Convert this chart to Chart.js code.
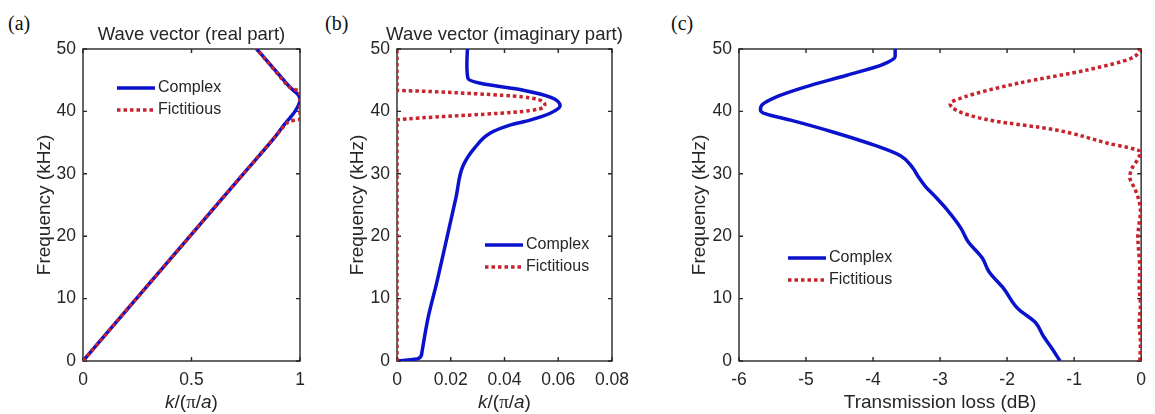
<!DOCTYPE html>
<html>
<head>
<meta charset="utf-8">
<script src="https://cdn.jsdelivr.net/npm/chart.js@4.4.1/dist/chart.umd.min.js"></script>
<style>
  body { margin: 0; background: #fff; }
  #fig { position: relative; width: 1155px; height: 414px; overflow: hidden; }
  #fig canvas { position: absolute; top: 0; }
  .tag { position: absolute; top: 13px; font: 20px "Liberation Serif", "Times New Roman", serif; line-height: 20px; color: #111; }
</style>
</head>
<body>
<div id="fig">
  <div class="tag" style="left:8px">(a)</div>
  <div class="tag" style="left:325px">(b)</div>
  <div class="tag" style="left:671px">(c)</div>
  <canvas id="chartA" width="320" height="414" style="left:0"></canvas>
  <canvas id="chartB" width="330" height="414" style="left:310px"></canvas>
  <canvas id="chartC" width="505" height="414" style="left:650px"></canvas>
</div>
<script>
// frequency axis shared by all panels (kHz)
const freqTicks = [0, 10, 20, 30, 40, 50];

// (a) wave vector, real part, k/(pi/a)
const freqRealComplex = [0, 10, 20, 30, 36, 38, 39, 40, 41, 41.8, 42.6, 43.5, 45, 47.5, 50];
const kRealComplex = [0, 0.246, 0.493, 0.739, 0.887, 0.93, 0.955, 0.977, 0.993, 1.0, 0.993, 0.965, 0.925, 0.863, 0.8];
const freqRealFict = [0, 10, 20, 30, 36, 37.8, 38.4, 38.8, 41, 43.2, 43.7, 45, 47.5, 50];
const kRealFict = [0, 0.246, 0.493, 0.739, 0.887, 0.931, 0.952, 1, 1, 1, 0.96, 0.922, 0.861, 0.8];
const kTicksReal = [0, 0.5, 1];

// (b) wave vector, imaginary part
const freqImagComplex = [0, 0.4, 1.2, 7, 12.4, 19.4, 26.3, 31.2, 34.3, 36.5, 37.8, 38.6, 39.7, 40.9, 42.2, 43.4, 44.5, 45.3, 47.5, 50];
const kImagComplex = [0, 0.008, 0.0092, 0.0116, 0.0147, 0.0184, 0.022, 0.0245, 0.0292, 0.0346, 0.042, 0.0495, 0.057, 0.0607, 0.0575, 0.047, 0.031, 0.0264, 0.026, 0.0262];
const freqImagFict = [0, 10, 20, 30, 38.6, 38.8, 40.0, 41.0, 42.2, 43.2, 43.4, 47, 50];
const kImagFict = [0, 0, 0, 0, 0, 0.004, 0.047, 0.055, 0.049, 0.012, 0, 0, 0];
const kTicksImag = [0, 0.02, 0.04, 0.06, 0.08];

// (c) transmission loss (dB)
const freqLossComplex = [0, 2, 4, 6.2, 8.4, 11.6, 14.3, 16.5, 19.1, 21.3, 24.3, 26.2, 28, 29.6, 31, 32.9, 34.5, 36.7, 38.6, 39.6, 40.2, 41, 42.3, 43.9, 45.8, 47.5, 48.8, 50];
const lossComplex = [-1.21, -1.33, -1.46, -1.58, -1.84, -2.05, -2.27, -2.37, -2.58, -2.69, -2.9, -3.06, -3.22, -3.33, -3.41, -3.59, -3.96, -4.6, -5.23, -5.6, -5.68, -5.66, -5.45, -5.02, -4.39, -3.86, -3.67, -3.67];
const freqLossFict = [0, 3, 6, 9, 12, 15, 18, 20, 22, 24, 26, 27.5, 29.5, 31, 32.5, 33.5, 34.9, 37.1, 38.5, 39.4, 40.2, 41.2, 42.3, 44.5, 46.7, 48.5, 50];
const lossFict = [-0.02, -0.01, -0.03, -0.01, -0.03, -0.02, -0.04, -0.05, -0.03, -0.01, -0.04, -0.09, -0.17, -0.13, -0.04, -0.01, -0.5, -1.31, -2.21, -2.57, -2.76, -2.85, -2.64, -1.84, -0.78, -0.15, 0];
const lossTicks = [-6, -5, -4, -3, -2, -1, 0];

const BLUE = '#0a12cc';
const RED = '#c8232c';
const INK = '#262626';
const SANS = '"Liberation Sans", Arial, sans-serif';

Chart.defaults.font.family = SANS;
Chart.defaults.color = INK;

function points(freqs, vals) {
    return freqs.map((f, i) => ({ x: vals[i], y: f }));
}

function complexSet(freqs, vals) {
    return {
        label: 'Complex', data: points(freqs, vals), order: 1,
        borderColor: BLUE, borderWidth: 3.5, pointRadius: 0,
        cubicInterpolationMode: 'monotone'
    };
}

function fictSet(freqs, vals) {
    return {
        label: 'Fictitious', data: points(freqs, vals), order: 0,
        borderColor: RED, borderWidth: 3.5, borderDash: [3.5, 3], borderCapStyle: 'butt',
        pointRadius: 0, cubicInterpolationMode: 'monotone'
    };
}

// box around the plot with inward ticks (matlab look)
const boxPlugin = {
    id: 'box',
    beforeDatasetsDraw(chart) {
        const { ctx, chartArea: a, scales: { x, y } } = chart;
        ctx.save();
        ctx.strokeStyle = INK;
        ctx.lineWidth = 1.4;
        ctx.strokeRect(a.left, a.top, a.width, a.height);
        ctx.beginPath();
        x.ticks.forEach(t => {
            const px = x.getPixelForValue(t.value);
            ctx.moveTo(px, a.bottom); ctx.lineTo(px, a.bottom - 4);
            ctx.moveTo(px, a.top); ctx.lineTo(px, a.top + 4);
        });
        y.ticks.forEach(t => {
            const py = y.getPixelForValue(t.value);
            ctx.moveTo(a.left, py); ctx.lineTo(a.left + 4, py);
            ctx.moveTo(a.right, py); ctx.lineTo(a.right - 4, py);
        });
        ctx.stroke();
        ctx.restore();
    }
};

// legend inside the axes, no frame
const innerLegend = {
    id: 'innerLegend',
    afterDatasetsDraw(chart, args, opts) {
        const { ctx, chartArea: a } = chart;
        ctx.save();
        ctx.font = '16px ' + SANS;
        ctx.textBaseline = 'middle';
        ctx.textAlign = 'left';
        chart.data.datasets.forEach((ds, i) => {
            const x0 = a.left + opts.left;
            const y0 = a.top + opts.top + i * 22;
            ctx.beginPath();
            ctx.strokeStyle = ds.borderColor;
            ctx.lineWidth = ds.borderWidth;
            ctx.lineCap = 'butt';
            ctx.setLineDash(ds.borderDash || []);
            ctx.moveTo(x0, y0);
            ctx.lineTo(x0 + 38, y0);
            ctx.stroke();
            ctx.setLineDash([]);
            ctx.fillStyle = INK;
            ctx.fillText(ds.label, x0 + 41, y0);
        });
        ctx.restore();
    }
};

// panel title and the k/(pi/a) label with italic letters
const panelText = {
    id: 'panelText',
    afterDraw(chart, args, opts) {
        const { ctx, chartArea: a } = chart;
        const cx = (a.left + a.right) / 2;
        ctx.save();
        ctx.fillStyle = INK;
        ctx.textBaseline = 'middle';
        if (opts.title) {
            ctx.font = '18.5px ' + SANS;
            ctx.textAlign = 'center';
            ctx.fillText(opts.title, cx, 35);
        }
        if (opts.kLabel) {
            const parts = [
                ['k', 'italic 19px ' + SANS],
                ['/(', '19px ' + SANS],
                ['\u03c0', '19px "Liberation Serif", serif'],
                ['/', '19px ' + SANS],
                ['a', 'italic 19px ' + SANS],
                [')', '19px ' + SANS]
            ];
            let total = 0;
            parts.forEach(p => { ctx.font = p[1]; total += ctx.measureText(p[0]).width; });
            let x = cx - total / 2;
            ctx.textAlign = 'left';
            parts.forEach(p => {
                ctx.font = p[1];
                ctx.fillText(p[0], x, 403);
                x += ctx.measureText(p[0]).width;
            });
        }
        ctx.restore();
    }
};

function freqAxis(width, titlePad) {
    return {
        type: 'linear', min: 0, max: 50,
        afterBuildTicks: s => { s.ticks = freqTicks.map(v => ({ value: v })); },
        grid: { display: false, drawTicks: false },
        border: { display: false },
        ticks: { padding: 7, font: { size: 17.5 }, color: INK, autoSkip: false },
        title: { display: true, text: 'Frequency (kHz)', font: { size: 19 }, color: INK, padding: { top: titlePad, bottom: 0 } },
        afterFit: s => { s.width = width; }
    };
}

function valueAxis(min, max, tickList, title) {
    return {
        type: 'linear', min: min, max: max,
        afterBuildTicks: s => { s.ticks = tickList.map(v => ({ value: v })); },
        grid: { display: false, drawTicks: false },
        border: { display: false },
        ticks: { padding: 9, font: { size: 17.5 }, color: INK, autoSkip: false, maxRotation: 0,
                 callback: v => String(+v.toFixed(3)) },
        title: title ? { display: true, text: title, font: { size: 19 }, color: INK, padding: { top: 0, bottom: 0 } }
                     : { display: false },
        afterFit: s => { s.height = 53; }
    };
}

function makeChart(id, datasets, xAxis, yAxis, padRight, legendPos, panelOpts) {
    new Chart(document.getElementById(id), {
        type: 'line',
        data: { datasets: datasets },
        options: {
            indexAxis: 'y',
            responsive: false,
            animation: false,
            devicePixelRatio: 1,
            layout: { padding: { left: 0, top: 49, right: padRight, bottom: 0 } },
            scales: { x: xAxis, y: yAxis },
            plugins: {
                legend: { display: false },
                tooltip: { enabled: false },
                innerLegend: legendPos,
                panelText: panelOpts
            }
        },
        plugins: [boxPlugin, innerLegend, panelText]
    });
}

makeChart('chartA',
    [complexSet(freqRealComplex, kRealComplex), fictSet(freqRealFict, kRealFict)],
    valueAxis(0, 1, kTicksReal, null),
    freqAxis(83, 33.6), 20,
    { left: 34, top: 39 },
    { title: 'Wave vector (real part)', kLabel: true });

makeChart('chartB',
    [complexSet(freqImagComplex, kImagComplex), fictSet(freqImagFict, kImagFict)],
    valueAxis(0, 0.08, kTicksImag, null),
    freqAxis(87, 36.6), 28,
    { left: 88, top: 196 },
    { title: 'Wave vector (imaginary part)', kLabel: true });

makeChart('chartC',
    [complexSet(freqLossComplex, lossComplex), fictSet(freqLossFict, lossFict)],
    valueAxis(-6, 0, lossTicks, 'Transmission loss (dB)'),
    freqAxis(89, 38.6), 7,
    { left: 49, top: 209 },
    { title: null, kLabel: false });
</script>
</body>
</html>
